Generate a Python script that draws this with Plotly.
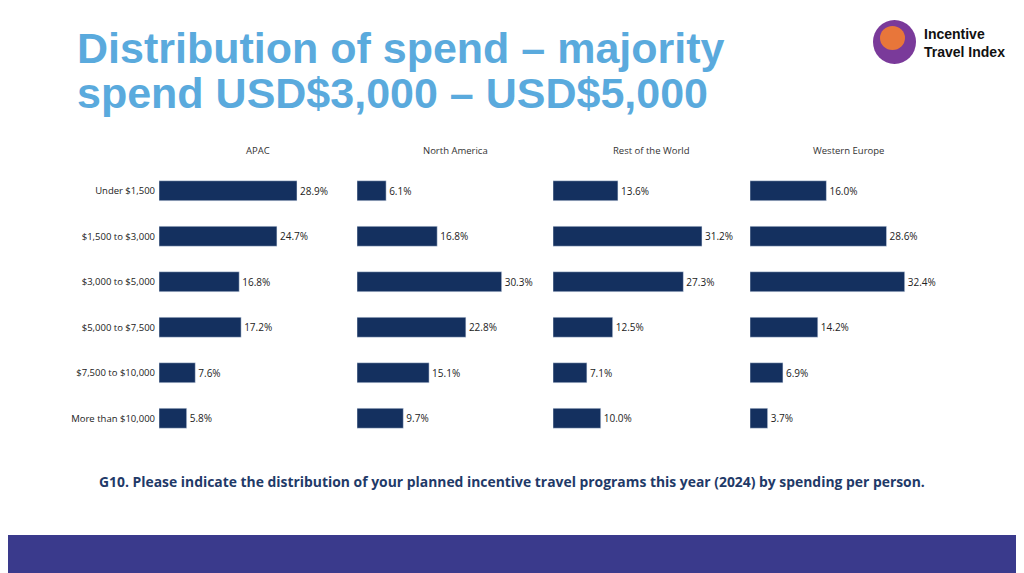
import plotly.graph_objects as go

categories = ["Under $1,500", "$1,500 to $3,000", "$3,000 to $5,000", "$5,000 to $7,500", "$7,500 to $10,000", "More than $10,000"]
regions = ["APAC", "North America", "Rest of the World", "Western Europe"]
apac = [28.9, 24.7, 16.8, 17.2, 7.6, 5.8]
north_america = [6.1, 16.8, 30.3, 22.8, 15.1, 9.7]
rest_of_world = [13.6, 31.2, 27.3, 12.5, 7.1, 10.0]
western_europe = [16.0, 28.6, 32.4, 14.2, 6.9, 3.7]
series = [apac, north_america, rest_of_world, western_europe]

W, H = 1024, 573
OX, OY = 8, 8  # page offset compensation

def px(x):
    return (x - OX) / W

def py(y):
    return 1 - (y - OY) / H

fig = go.Figure()
lefts = [159, 357, 553, 750]
centers = [244, 455, 651, 886]
pw = 191
for i, (reg, vals) in enumerate(zip(regions, series)):
    n = "" if i == 0 else str(i + 1)
    fig.add_trace(go.Bar(
        y=categories, x=vals, orientation="h", xaxis="x" + n, yaxis="y" + n,
        marker_color="#14305f", width=0.44,
        text=[f"{v:.1f}%" for v in vals], textposition="outside",
        textfont=dict(size=10, color="#222"), cliponaxis=False, showlegend=False))
    fig.update_layout(**{
        "xaxis" + n: dict(domain=[px(lefts[i]), px(lefts[i] + pw)], range=[0, 40],
                          visible=False, anchor="y" + n),
        "yaxis" + n: dict(domain=[py(441), py(168)], autorange="reversed",
                          showticklabels=(i == 0), tickfont=dict(size=9.5, color="#222"),
                          showgrid=False, zeroline=False, showline=False, ticks="",
                          anchor="x" + n, ticklabelstandoff=3),
    })
    fig.add_annotation(text=reg, x=px(centers[i]), y=py(142), xref="paper", yref="paper",
                       showarrow=False, font=dict(size=9.5, color="#333"))

for line, yy in [("<b>Distribution of spend – majority</b>", 48), ("<b>spend USD$3,000 – USD$5,000</b>", 93)]:
    fig.add_annotation(text=line, x=px(75), y=py(yy), xref="paper", yref="paper", xanchor="left",
                       yanchor="middle", align="left", showarrow=False,
                       font=dict(size=43, color="#5aaadd", family="Liberation Sans"))
fig.add_annotation(text="<b>G10. Please indicate the distribution of your planned incentive travel programs this year (2024) by spending per person.</b>",
                   x=px(512), y=py(493), xref="paper", yref="paper", showarrow=False,
                   font=dict(size=13.9, color="#1f3a68", family="Open Sans"))
fig.add_annotation(text="<b>Incentive<br>Travel Index</b>", x=px(922), y=py(24),
                   xref="paper", yref="paper", xanchor="left", align="left", showarrow=False,
                   font=dict(size=14, color="#111", family="Liberation Sans"))
fig.add_shape(type="rect", xref="paper", yref="paper", x0=-0.05, x1=1.05, y0=-0.05, y1=py(535),
              fillcolor="#3a3a8c", line_width=0, layer="below")
fig.add_shape(type="circle", xref="paper", yref="paper", x0=px(873), x1=px(916),
              y0=py(64), y1=py(20), fillcolor="#7a3a9a", line_width=0)
fig.add_shape(type="circle", xref="paper", yref="paper", x0=px(880), x1=px(905),
              y0=py(50), y1=py(26), fillcolor="#e8763a", line_width=0)

fig.update_layout(width=W, height=H, margin=dict(l=0, r=0, t=0, b=0),
                  plot_bgcolor="white", paper_bgcolor="white",
                  font=dict(family="Open Sans"), bargap=0.5)
fig.write_html("out.html")
